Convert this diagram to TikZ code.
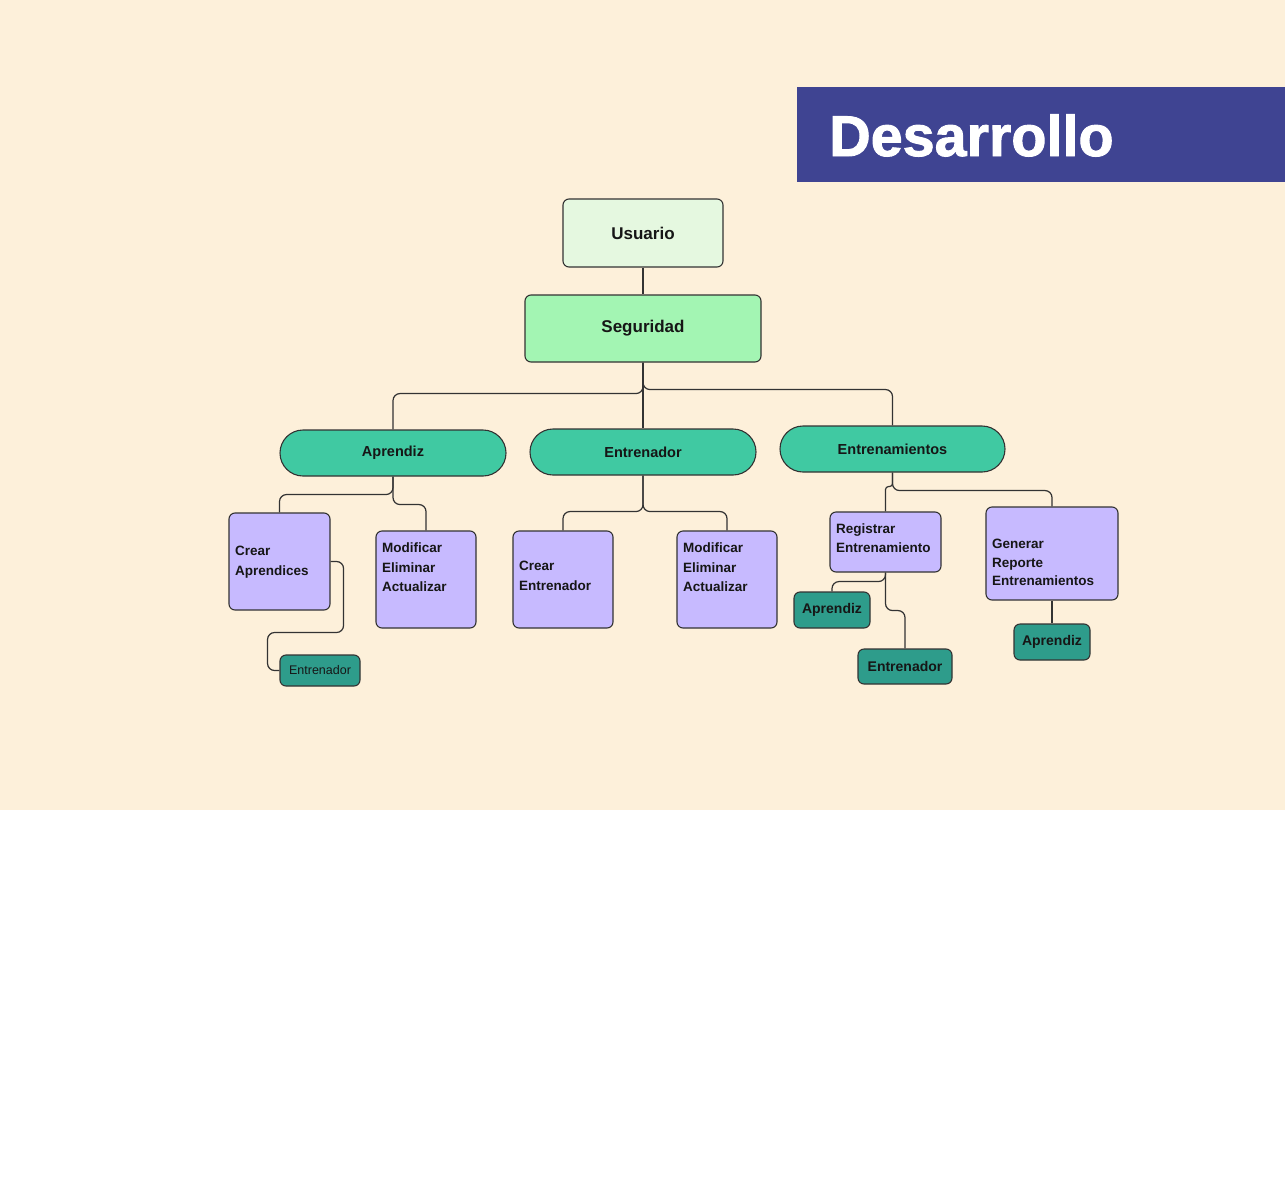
\documentclass[tikz,border=0pt]{standalone}
\usepackage{fontspec}
\setmainfont{Liberation Sans}
\newfontfamily\titlefont[BoldFeatures={FakeBold=1.6}]{Liberation Sans}
\definecolor{cream}{HTML}{FDF0DA}
\definecolor{banner}{HTML}{3F4492}
\definecolor{usufill}{HTML}{E5F8E0}
\definecolor{segfill}{HTML}{A3F5B3}
\definecolor{pillfill}{HTML}{40C9A2}
\definecolor{lavender}{HTML}{C7BAFF}
\definecolor{darkteal}{HTML}{2E9C8B}
\definecolor{linec}{HTML}{333333}
\definecolor{txt}{HTML}{161616}
\tikzset{
  box/.style={draw=linec, line width=1.1pt, rounded corners=6pt, inner sep=0pt, text=txt},
  topbox/.style={box, font=\fontsize{17}{20}\selectfont\bfseries},
  pill/.style={draw=linec, line width=1.1pt, rounded corners=23pt, fill=pillfill, inner sep=0pt, text=txt,
    minimum width=226pt, minimum height=46pt, font=\fontsize{14.5}{17}\selectfont\bfseries},
  leaf/.style={box, fill=lavender},
  leaftext/.style={anchor=north west, inner sep=0pt, align=left, text=txt,
    font=\fontsize{13.5}{19.5}\selectfont\bfseries},
  tag/.style={box, fill=darkteal, font=\fontsize{14}{17}\selectfont\bfseries},
  conn/.style={draw=linec, line width=1.2pt, rounded corners=7pt},
}
\begin{document}
\begin{tikzpicture}[x=1pt,y=-1pt]
\useasboundingbox (0,0) rectangle (1285,1194);
\fill[white] (0,0) rectangle (1285,1194);
\fill[cream] (0,0) rectangle (1285,810);
% banner
\fill[banner] (797,87) rectangle (1285,182);
\node[anchor=base west, inner sep=0pt, text=white, font=\fontsize{57.5}{60}\titlefont\bfseries] (title) at (829,156) {Desarrollo};

% top nodes
\node[topbox, fill=usufill, minimum width=160pt, minimum height=68pt] (usu) at (643,233) {Usuario};
\node[topbox, fill=segfill, minimum width=236pt, minimum height=67pt] (seg) at (643,328.5) {Seguridad};

% pills
\node[pill] (pap) at (393,453) {Aprendiz};
\node[pill] (pent) at (643,452) {Entrenador};
\node[pill, minimum width=225pt] (pen) at (892.5,449) {Entrenamientos};

% leaves
\node[leaf, minimum width=101pt, minimum height=97pt] (ca) at (279.5,561.5) {};
\node[leaf, minimum width=100pt, minimum height=97pt] (m1) at (426,579.5) {};
\node[leaf, minimum width=100pt, minimum height=97pt] (ce) at (563,579.5) {};
\node[leaf, minimum width=100pt, minimum height=97pt] (m2) at (727,579.5) {};
\node[leaf, minimum width=111pt, minimum height=60pt] (reg) at (885.5,542) {};
\node[leaf, minimum width=132pt, minimum height=93pt] (gen) at (1052,553.5) {};

\node[leaftext] (cat) at (235,546) {Crear\\Aprendices};
\node[leaftext] (m1t) at (382,543) {Modificar\\Eliminar\\Actualizar};
\node[leaftext] (cet) at (519,561) {Crear\\Entrenador};
\node[leaftext] (m2t) at (683,543) {Modificar\\Eliminar\\Actualizar};
\node[leaftext, font=\fontsize{13.5}{18.5}\selectfont\bfseries] (regt) at (836,524) {Registrar\\Entrenamiento};
\node[leaftext, font=\fontsize{13.5}{18.5}\selectfont\bfseries] (gent) at (992,539) {Generar\\Reporte\\Entrenamientos};

% tags
\node[tag, minimum width=80pt, minimum height=31pt, font=\fontsize{12.5}{15}\selectfont] (ent1) at (320,670.5) {Entrenador};
\node[tag, minimum width=76pt, minimum height=36pt] (ap2) at (832,610) {Aprendiz};
\node[tag, minimum width=94pt, minimum height=35pt] (ent2) at (905,666.5) {Entrenador};
\node[tag, minimum width=76pt, minimum height=36pt] (ap3) at (1052,642) {Aprendiz};

% connectors
\draw[conn] (usu.south) -- (seg.north);
\draw[conn] (seg.south) -- (pent.north);
\draw[conn] (seg.south) -- ++(0,31) -| (pap.north);
\draw[conn] (seg.south) -- ++(0,27) -| (pen.north);

\draw[conn] (pap.south) -- ++(0,18) -| (ca.north);
\draw[conn] (pap.south) -- ++(0,28) -| (m1.north);
\draw[conn] (pent.south) -- ++(0,36) -| (ce.north);
\draw[conn] (pent.south) -- ++(0,36) -| (m2.north);
\draw[conn] (pen.south) -- ++(0,18) -| (gen.north);
\draw[conn, rounded corners=3pt] (pen.south) -- ++(0,14) -| (reg.north);

\draw[conn] (ca.east) -- ++(13,0) -- ++(0,71) -- ++(-76,0) |- (ent1.west);
\draw[conn] (reg.south) -- ++(0,9) -| (ap2.north);
\draw[conn] (reg.south) -- ++(0,38) -| (ent2.north);
\draw[conn] (gen.south) -- (ap3.north);
\end{tikzpicture}
\end{document}
